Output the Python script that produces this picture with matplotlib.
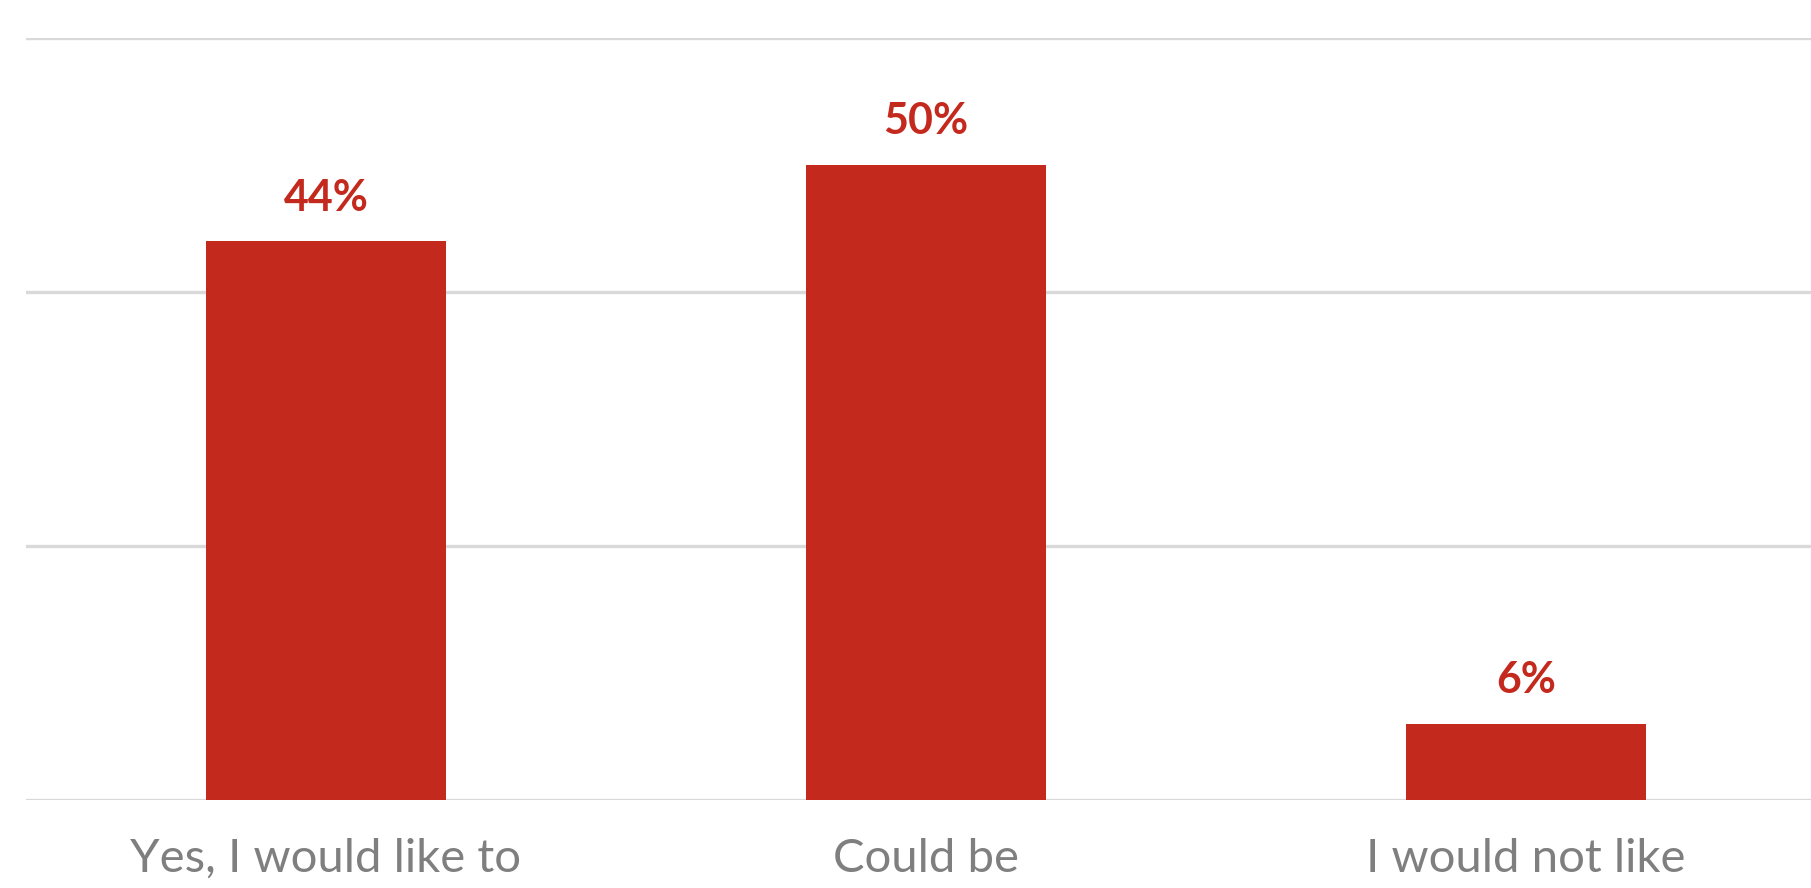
import matplotlib.pyplot as plt

categories = ["Yes, I would like to", "Could be", "I would not like"]
shares = [44, 50, 6]
grid_ticks = [0, 20, 40, 60]

bar_color = "#C4291D"
grid_color = "#D9D9D9"
label_color = "#7F7F7F"

plt.rcParams["font.family"] = ["Lato", "DejaVu Sans"]

fig = plt.figure(figsize=(18.11, 8.88), dpi=100)
# axes run past the right edge of the canvas, so the last gridline is cut off
ax = fig.add_axes([26 / 1811, 88 / 888, 1800 / 1811, 762 / 888])

x = list(range(len(categories)))
ax.bar(x, shares, width=0.4, color=bar_color, zorder=3)

for xi, v in zip(x, shares):
    ax.annotate(f"{v}%", xy=(xi, v), xytext=(0, 17), textcoords="offset points",
                ha="center", va="bottom", fontsize=31, fontweight="bold",
                color=bar_color)

ax.set_xlim(-0.5, len(categories) - 0.5)
ax.set_ylim(0, 60)
ax.set_yticks(grid_ticks)
ax.yaxis.grid(True, color=grid_color, linewidth=2.4, zorder=0)
ax.tick_params(axis="y", left=False, labelleft=False)

ax.set_xticks(x)
ax.set_xticklabels(categories, fontsize=34, color=label_color)
ax.tick_params(axis="x", length=0, pad=27)

for side in ["top", "right", "left", "bottom"]:
    ax.spines[side].set_visible(False)

fig.savefig("out.png", dpi=100)
